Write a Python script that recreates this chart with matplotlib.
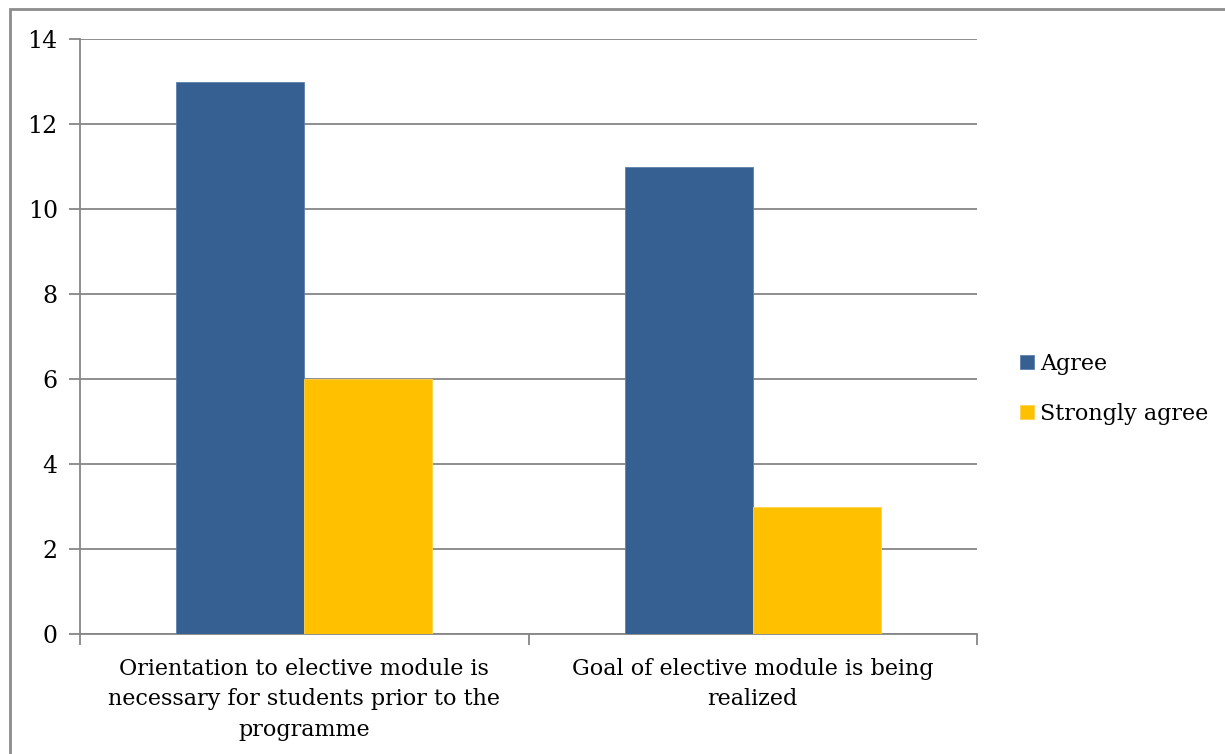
import matplotlib
matplotlib.use("Agg")
import matplotlib.pyplot as plt
from matplotlib.patches import Rectangle
import numpy as np

categories = [
    "Orientation to elective module is\nnecessary for students prior to the\nprogramme",
    "Goal of elective module is being\nrealized",
]
series_names = ["Agree", "Strongly agree"]
agree = [13, 11]
strongly_agree = [6, 3]
y_ticks = [0, 2, 4, 6, 8, 10, 12, 14]

colors = ["#366092", "#FFC000"]
grid_color = "#868686"

plt.rcParams["font.family"] = ["DejaVu Serif"]
FS = 16

W, H = 1225, 754
fig = plt.figure(figsize=(W / 100, H / 100), dpi=100)

# outer chart frame
fig.patches.append(Rectangle((9.5 / W, -0.1), 2, (H - 9.5) / H + 0.1,
                             transform=fig.transFigure, fill=False,
                             edgecolor="#8c8c8c", linewidth=2.0))

ax = fig.add_axes([80 / W, (H - 634) / H, (977 - 80) / W, (634 - 39) / H])

x = np.arange(len(categories))
bw = 1 / 3.5
ax.bar(x - bw / 2, agree, width=bw, color=colors[0], edgecolor="#5b80ad",
       linewidth=0.6, label=series_names[0], zorder=3)
ax.bar(x + bw / 2, strongly_agree, width=bw, color=colors[1], edgecolor="#ffd24d",
       linewidth=0.6, label=series_names[1], zorder=3)

ax.set_xlim(-0.5, len(categories) - 0.5)
ax.set_ylim(0, 14)
ax.set_yticks(y_ticks)
ax.set_yticklabels([str(v) for v in y_ticks], fontsize=17)
ax.yaxis.grid(True, color=grid_color, linewidth=1.3, zorder=0)

for side in ["top", "right"]:
    ax.spines[side].set_visible(False)
for side in ["left", "bottom"]:
    ax.spines[side].set_color(grid_color)
    ax.spines[side].set_linewidth(1.3)

ax.tick_params(axis="y", length=8, width=1.3, color=grid_color, pad=8)
ax.set_xticks(x)
ax.set_xticklabels(categories, fontsize=FS, linespacing=1.52)
ax.tick_params(axis="x", length=0, pad=17)
# category boundary tick marks
ax.set_xticks([-0.5, 0.5, 1.5], minor=True)
ax.tick_params(axis="x", which="minor", length=8, width=1.3, color=grid_color)

leg = fig.legend(loc="center left", bbox_to_anchor=(1000 / W, 1 - 389 / H),
                 frameon=False, fontsize=FS, handlelength=0.62, handleheight=0.62,
                 handletextpad=0.3, labelspacing=1.25)

fig.savefig("out.png", dpi=100, facecolor="white")
